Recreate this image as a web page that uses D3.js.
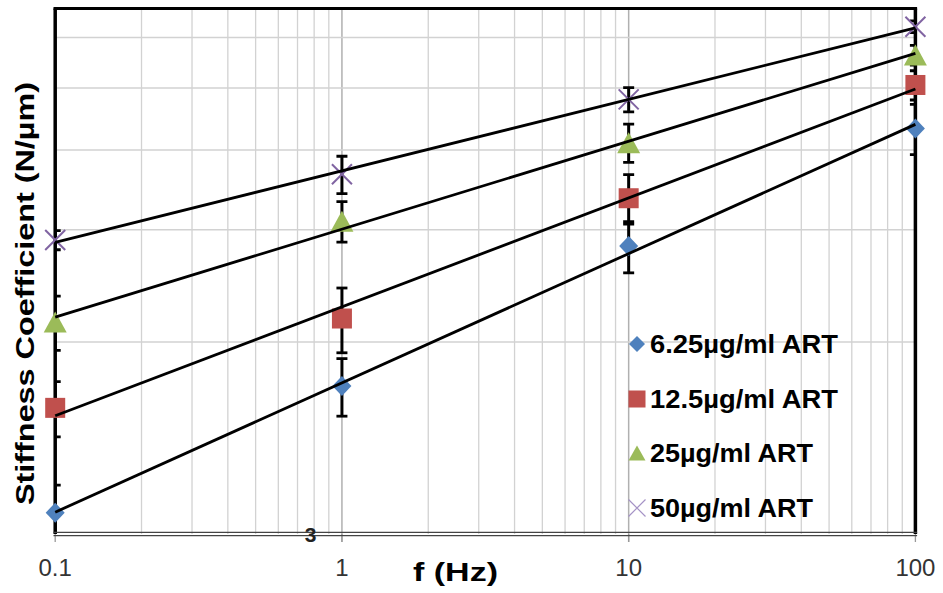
<!DOCTYPE html>
<html>
<head>
<meta charset="utf-8">
<script src="https://cdn.jsdelivr.net/npm/d3@7/dist/d3.min.js"></script>
<style>
  html, body { margin: 0; padding: 0; background: #fff; }
  svg { display: block; font-family: "Liberation Sans", Arial, sans-serif; }
</style>
</head>
<body>
<svg id="chart" width="943" height="593"></svg>
<script>
// Frequencies (Hz) and stiffness coefficient (N/µm) per ART concentration
const freqs = [0.1, 1, 10, 100];
const seriesNames = ["6.25µg/ml ART", "12.5µg/ml ART", "25µg/ml ART", "50µg/ml ART"];
const k625 = [3.24, 5.12, 8.48, 12.97];
const k125 = [4.73, 6.53, 10.08, 15.17];
const k25  = [6.45, 9.28, 12.32, 16.9];
const k50  = [8.67, 10.99, 14.40, 18.72];
// standard deviations
const e625 = [0.34, 0.53, 0.78, 1.17];
const e125 = [0.47, 0.76, 0.90, 0.80];
const e25  = [0.63, 0.68, 0.85, 0.60];
const e50  = [0.30, 0.74, 0.63, 0.40];

const xTicks = [0.1, 1, 10, 100];
const xTickLabels = ["0.1", "1", "10", "100"];
const yGrid = [6, 9, 12, 15, 18];
const yDomain = [3, 20];
const strayLabel = "3";

const series = [
  { name: seriesNames[0], vals: k625, errs: e625, shape: "diamond",  color: "#4F81BD" },
  { name: seriesNames[1], vals: k125, errs: e125, shape: "square",   color: "#C0504D" },
  { name: seriesNames[2], vals: k25,  errs: e25,  shape: "triangle", color: "#9BBB59" },
  { name: seriesNames[3], vals: k50,  errs: e50,  shape: "cross",    color: "#8064A2" }
];

const svg = d3.select("#chart");
const x = d3.scaleLog().domain([0.1, 100]).range([55.2, 915.4]);
const y = d3.scaleLog().domain(yDomain).range([534, 8.4]);
const [x0, x1] = x.range();
const [yb, yt] = y.range();

svg.append("defs").append("clipPath").attr("id", "plotClip")
  .append("rect").attr("x", x0).attr("y", yt).attr("width", x1 - x0).attr("height", yb - yt);

// gridlines
const gGrid = svg.append("g");
const minorX = [];
[0.1, 1, 10].forEach(d => { for (let m = 2; m <= 9; m++) minorX.push(d * m); });
gGrid.selectAll("line.minx").data(minorX).join("line")
  .attr("x1", d => x(d)).attr("x2", d => x(d)).attr("y1", yt).attr("y2", yb)
  .attr("stroke", "#d2d2d2").attr("stroke-width", 1.3);
gGrid.selectAll("line.majx").data([1, 10]).join("line")
  .attr("x1", d => x(d)).attr("x2", d => x(d)).attr("y1", yt).attr("y2", yb + 8)
  .attr("stroke", "#b0b0b0").attr("stroke-width", 1.5);
gGrid.selectAll("line.gy").data(yGrid).join("line")
  .attr("x1", x0).attr("x2", x1).attr("y1", d => y(d)).attr("y2", d => y(d))
  .attr("stroke", "#d2d2d2").attr("stroke-width", 1.5);

// x tick marks and labels
svg.selectAll("line.xt").data(xTicks).join("line")
  .attr("x1", d => x(d)).attr("x2", d => x(d)).attr("y1", yb).attr("y2", yb + 8)
  .attr("stroke", "#999").attr("stroke-width", 1.3);
svg.selectAll("text.xl").data(xTicks).join("text")
  .attr("x", d => x(d)).attr("y", 575.5).attr("text-anchor", "middle")
  .attr("font-size", 24).attr("fill", "#333")
  .text((d, i) => xTickLabels[i]);

// error bars
const gErr = svg.append("g").attr("clip-path", "url(#plotClip)");
series.forEach(s => {
  freqs.forEach((f, i) => {
    const cx = x(f), v = s.vals[i], e = s.errs[i];
    const yHi = y(v + e), yLo = y(Math.max(v - e, 2.5));
    gErr.append("line").attr("x1", cx).attr("x2", cx).attr("y1", yHi).attr("y2", yLo)
      .attr("stroke", "#000").attr("stroke-width", 3);
    [yHi, yLo].forEach(yy => gErr.append("line")
      .attr("x1", cx - 5.5).attr("x2", cx + 5.5).attr("y1", yy).attr("y2", yy)
      .attr("stroke", "#000").attr("stroke-width", 2.8));
  });
});

// plot frame
svg.append("line").attr("x1", x0 - 1.7).attr("x2", x1 + 1.7).attr("y1", yt).attr("y2", yt)
  .attr("stroke", "#000").attr("stroke-width", 3);
svg.append("line").attr("x1", x0).attr("x2", x0).attr("y1", yt).attr("y2", yb)
  .attr("stroke", "#000").attr("stroke-width", 3.5);
svg.append("line").attr("x1", x1).attr("x2", x1).attr("y1", yt).attr("y2", yb)
  .attr("stroke", "#000").attr("stroke-width", 3.5);
[yb - 1.6, yb + 1.6].forEach(yy => svg.append("line")
  .attr("x1", x0 - 1.7).attr("x2", x1 + 1.7).attr("y1", yy).attr("y2", yy)
  .attr("stroke", "#444").attr("stroke-width", 1.3));

// marker shapes
function drawMarker(g, shape, color, cx, cy, sz) {
  if (shape === "diamond") {
    const rx = sz.dx, ry = sz.dy;
    g.append("path").attr("d", `M${cx},${cy - ry}L${cx + rx},${cy}L${cx},${cy + ry}L${cx - rx},${cy}Z`).attr("fill", color);
  } else if (shape === "square") {
    const a = sz.s;
    g.append("rect").attr("x", cx - a / 2).attr("y", cy - a / 2).attr("width", a).attr("height", a).attr("fill", color);
  } else if (shape === "triangle") {
    const w = sz.tw, h = sz.th;
    g.append("path").attr("d", `M${cx},${cy - h / 2}L${cx + w / 2},${cy + h / 2}L${cx - w / 2},${cy + h / 2}Z`).attr("fill", color);
  } else {
    const r = sz.c;
    g.append("path").attr("d", `M${cx - r},${cy - r}L${cx + r},${cy + r}M${cx - r},${cy + r}L${cx + r},${cy - r}`)
      .attr("stroke", sz.cc || color).attr("stroke-width", sz.cw).attr("fill", "none");
  }
}

const gMarks = svg.append("g");
const bigSize = { dx: 9.5, dy: 10, s: 20, tw: 23, th: 21, c: 10, cw: 2 };
series.forEach(s => {
  freqs.forEach((f, i) => drawMarker(gMarks, s.shape, s.color, x(f), y(s.vals[i]), bigSize));
});

// power-law trend lines (least squares in log-log space)
const gTrend = svg.append("g");
series.forEach(s => {
  const lx = freqs.map(Math.log10), ly = s.vals.map(Math.log10);
  const mx = d3.mean(lx), my = d3.mean(ly);
  const b = d3.sum(lx.map((v, i) => (v - mx) * (ly[i] - my))) / d3.sum(lx.map(v => (v - mx) ** 2));
  const a = my - b * mx;
  const fit = f => Math.pow(10, a + b * Math.log10(f));
  const pts = [0.1, 100].map(f => [x(f), y(fit(f))]);
  gTrend.append("path").attr("d", d3.line()(pts))
    .attr("stroke", "#000").attr("stroke-width", 2.8).attr("fill", "none");
});

// legend
const gLeg = svg.append("g");
const legSize = { dx: 8, dy: 8, s: 17, tw: 17, th: 15, c: 8.5, cw: 1.2, cc: "#a593c6" };
const legRows = [344, 399, 453, 508];
series.forEach((s, i) => {
  drawMarker(gLeg, s.shape, s.color, 637, legRows[i], legSize);
  gLeg.append("text").attr("x", 650).attr("y", legRows[i] + 9)
    .attr("font-size", 25.5).attr("font-weight", "bold").attr("fill", "#000")
    .attr("textLength", [188, 188, 163, 163][i]).attr("lengthAdjust", "spacingAndGlyphs")
    .text(s.name);
});

// axis titles
svg.append("text").attr("transform", "translate(34,505) rotate(-90)")
  .attr("font-size", 26).attr("font-weight", "bold").attr("fill", "#000")
  .attr("textLength", 423).attr("lengthAdjust", "spacingAndGlyphs")
  .text("Stiffness Coefficient (N/µm)");
svg.append("text").attr("x", 413).attr("y", 581)
  .attr("font-size", 26).attr("font-weight", "bold").attr("fill", "#000")
  .attr("textLength", 85).attr("lengthAdjust", "spacingAndGlyphs")
  .text("f (Hz)");
svg.append("text").attr("x", 310.5).attr("y", 541.5).attr("text-anchor", "middle")
  .attr("font-size", 21).attr("font-weight", "bold").attr("fill", "#222")
  .text(strayLabel);
</script>
</body>
</html>
